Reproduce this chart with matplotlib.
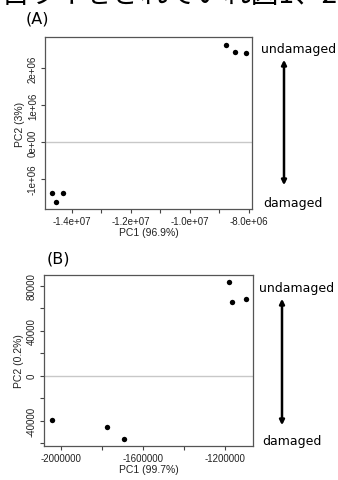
import matplotlib
matplotlib.use("Agg")
import matplotlib.pyplot as plt

W, H = 338, 481

# Panel A data
a_x = [-8.79e6, -8.46e6, -8.09e6, -1.466e7, -1.454e7, -1.428e7]
a_y = [2.63e6, 2.44e6, 2.40e6, -1.38e6, -1.62e6, -1.38e6]
a_xticks = [-1.4e7, -1.3e7, -1.2e7, -1.1e7, -1.0e7, -0.9e7, -0.8e7]
a_xticklabels = ["-1.4e+07", "", "-1.2e+07", "", "-1.0e+07", "", "-8.0e+06"]
a_yticks = [-1e6, 0, 1e6, 2e6]
a_yticklabels = ["-1e+06", "0e+00", "1e+06", "2e+06"]

# Panel B data
b_x = [-1182000, -1167000, -1096000, -2045000, -1776000, -1694000]
b_y = [83560, 65800, 67900, -39400, -45300, -56300]
b_xticks = [-2000000, -1800000, -1600000, -1400000, -1200000]
b_xticklabels = ["-2000000", "", "-1600000", "", "-1200000"]
b_yticks = [-60000, -40000, -20000, 0, 20000, 40000, 60000, 80000]
b_yticklabels = ["", "-40000", "", "0", "", "40000", "", "80000"]

fig = plt.figure(figsize=(W / 100, H / 100), dpi=100)
plt.rcParams['font.family'] = ['Liberation Sans', 'DejaVu Sans']


def px_axes(l, t, r, b):
    return fig.add_axes([l / W, 1 - b / H, (r - l) / W, (b - t) / H])


def style(ax, xs, ys, xt, xtl, yt, ytl, xlim, ylim, xlabel, ylabel):
    ax.axhline(0, color="#c8c8c8", lw=1.0, zorder=1)
    ax.scatter(xs, ys, s=15, color="black", zorder=3, linewidths=0)
    ax.set_xlim(*xlim)
    ax.set_ylim(*ylim)
    ax.set_xticks(xt)
    ax.set_xticklabels(xtl, fontsize=7, color="#222222")
    ax.set_yticks(yt)
    ax.set_yticklabels(ytl, fontsize=7, rotation=90, va="center",
                       color="#222222")
    ax.tick_params(direction="out", length=3, width=0.8, color="#444444",
                   pad=2)
    for s in ax.spines.values():
        s.set_color("#555555")
        s.set_linewidth(0.9)
    ax.set_xlabel(xlabel, fontsize=7.5, labelpad=1, color="#222222")
    ax.set_ylabel(ylabel, fontsize=7.5, labelpad=2, color="#222222")


axA = px_axes(45, 38, 252, 210)
style(axA, a_x, a_y, a_xticks, a_xticklabels, a_yticks, a_yticklabels,
      (-1.4905e7, -7.9e6), (-1.81e6, 2.84e6), "PC1 (96.9%)", "PC2 (3%)")

axB = px_axes(44, 276, 253, 447)
style(axB, b_x, b_y, b_xticks, b_xticklabels, b_yticks, b_yticklabels,
      (-2085600, -1063000), (-62500, 89500), "PC1 (99.7%)", "PC2 (0.2%)")


def ftext(x, y, s, **kw):
    fig.text(x / W, 1 - y / H, s, **kw)


# clipped Japanese line at the top (cut off in the reference as well)
ftext(2, 10, "目ライをされていれ図1、2", fontsize=20,
      family=["Noto Sans CJK JP", "DejaVu Sans"], va="bottom", ha="left",
      color="black")

ftext(26, 19, "(A)", fontsize=11.5, va="center", ha="left",
      family=["DejaVu Sans"])
ftext(47, 259, "(B)", fontsize=11.5, va="center", ha="left",
      family=["DejaVu Sans"])


def arrow_annot(x_arrow, y_top, y_bot, y_un, y_dm, x_un, x_dm):
    ftext(x_un, y_un, "undamaged", fontsize=9, va="center", ha="left",
          family=["DejaVu Sans"])
    ftext(x_dm, y_dm, "damaged", fontsize=9, va="center", ha="left",
          family=["DejaVu Sans"])
    fig.patches.append(matplotlib.patches.FancyArrowPatch(
        (x_arrow / W, 1 - y_bot / H), (x_arrow / W, 1 - y_top / H),
        transform=fig.transFigure, arrowstyle="<|-|>",
        mutation_scale=7, lw=1.8, color="black"))


arrow_annot(284, 58, 189, 50, 203, 261, 263)
arrow_annot(282, 297, 429, 289, 442, 259, 262)

fig.savefig("out.png", dpi=100)
